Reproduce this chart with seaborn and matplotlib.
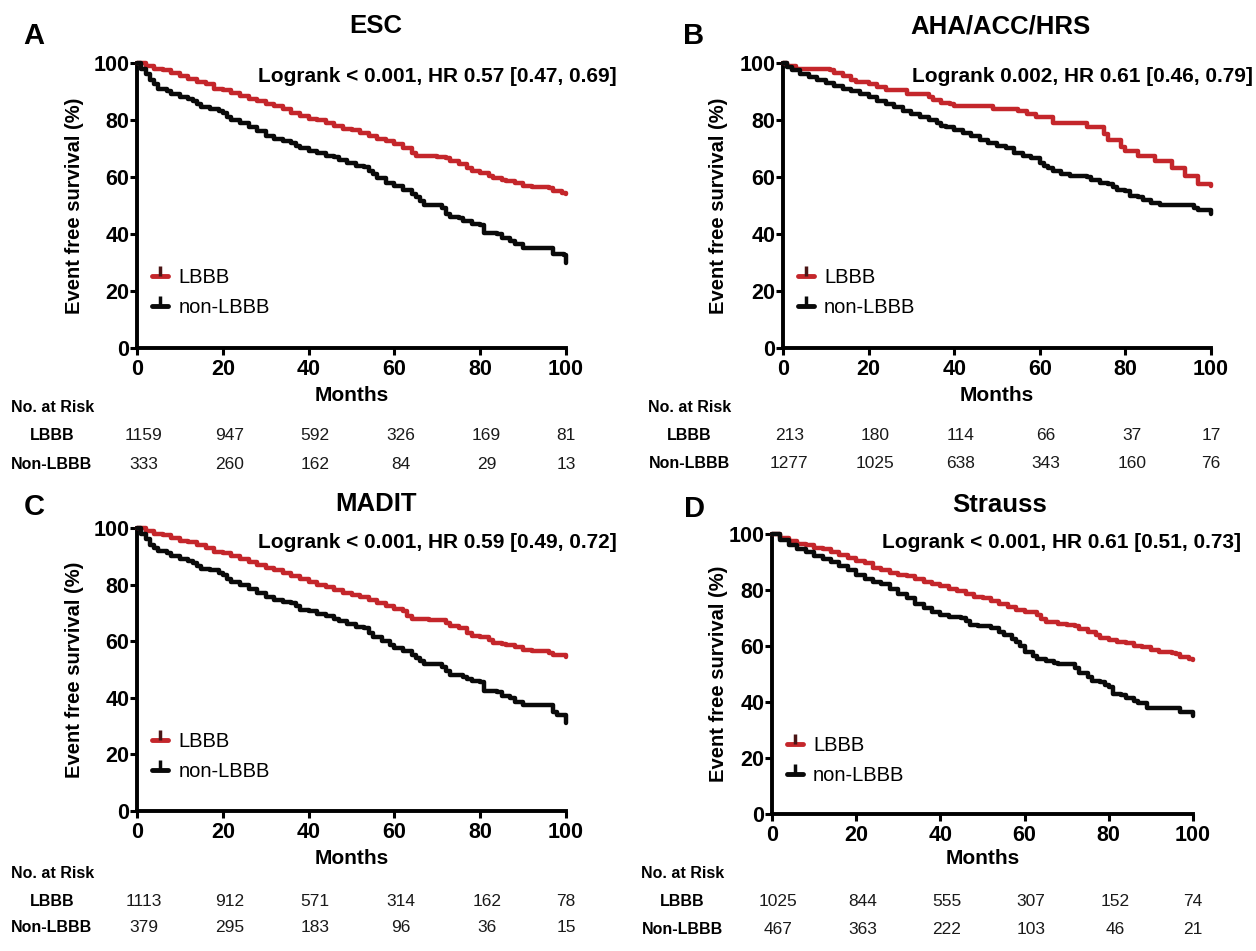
import matplotlib
matplotlib.use('Agg')
import matplotlib.pyplot as plt
import seaborn as sns
import pandas as pd
from matplotlib.lines import Line2D
from matplotlib.transforms import blended_transform_factory

# ---------------- DATA ----------------
risk_months = [0, 20, 40, 60, 80, 100]
x_ticks = [0, 20, 40, 60, 80, 100]
y_ticks = [0, 20, 40, 60, 80, 100]
group_labels = ["LBBB", "non-LBBB"]
risk_row_labels = ["LBBB", "Non-LBBB"]

panel_letters = ["A", "B", "C", "D"]
panel_titles = ["ESC", "AHA/ACC/HRS", "MADIT", "Strauss"]
panel_stats = [
    "Logrank < 0.001, HR 0.57 [0.47, 0.69]",
    "Logrank 0.002, HR 0.61 [0.46, 0.79]",
    "Logrank < 0.001, HR 0.59 [0.49, 0.72]",
    "Logrank < 0.001, HR 0.61 [0.51, 0.73]",
]

# ESC
esc_lbbb_t = [0, 2, 4, 6, 8, 10, 12, 14, 16, 18, 20, 22, 24, 26, 28, 30, 32, 34, 36, 38, 40, 42, 44, 46, 48, 50,
              52, 54, 56, 58, 60, 62, 64, 65, 68, 70, 72, 73, 75, 77, 78, 80, 82, 83, 85, 86, 88, 90, 92, 96, 97, 99, 100]
esc_lbbb_s = [100, 99, 98, 97.5, 96.5, 95.5, 94.5, 93.5, 92.5, 91, 90.5, 89.5, 88.5, 87.5, 86.5, 85.5, 85, 84, 82.5,
              81.5, 80.5, 80, 79, 78, 77, 76.5, 75.5, 74.5, 73.5, 72.5, 71.5, 70, 68.5, 67.5, 67.5, 67, 66.5, 65.5, 64.5,
              63, 62, 61.5, 60.5, 59.5, 59, 58.5, 58, 57, 56.5, 56, 55, 54.5, 54]
esc_non_t = [0, 1, 2, 3, 4, 5, 7, 8, 10, 12, 13, 14, 15, 17, 19, 20, 21, 22, 24, 26, 28, 30, 32, 34, 36, 37, 38, 40,
             42, 44, 46, 47, 49, 51, 53, 54, 55, 56, 58, 60, 62, 64, 65, 66, 67, 70, 71, 72, 73, 75, 76, 78, 80, 81,
             84, 85, 87, 88, 90, 96, 97, 99.5, 100]
esc_non_s = [100, 98, 96, 94, 92.5, 91, 90, 89, 88, 87.5, 86.5, 85.5, 84.5, 84, 83, 82.5, 81, 80, 79, 77.5, 76, 74.5,
             73.5, 72.5, 72, 71, 70, 69, 68.5, 67.5, 67, 66, 65, 64, 63.5, 62, 61, 59.5, 58, 57, 55.5, 54, 53, 51.5, 50,
             50, 49, 47, 46, 45.5, 44.5, 43.5, 43, 40.5, 40, 38.5, 37.5, 36.5, 35, 35, 33, 32.5, 30]

# AHA/ACC/HRS
aha_lbbb_t = [0, 1, 3, 10, 11, 12, 14, 16, 17, 20, 22, 24, 28, 29, 33, 34, 35, 37, 39, 40, 48, 49, 54, 55, 57, 59,
              62, 63, 70, 71, 74, 75, 76, 78, 79, 80, 82, 83, 86, 87, 90, 91, 93, 94, 96, 97, 100]
aha_lbbb_s = [100, 99, 98, 98, 97.5, 96.5, 95.5, 94, 93.5, 92.5, 91.5, 90.5, 90.5, 89, 89, 88, 87, 86, 85.5, 85, 85,
              84, 84, 83, 82, 81, 81, 79, 79, 77.5, 77.5, 75, 73, 73, 70.5, 69, 69, 67.5, 67.5, 65.5, 65.5, 63, 63,
              60.5, 60.5, 57.5, 57]
aha_non_t = [0, 1, 2, 4, 6, 8, 10, 12, 14, 16, 18, 20, 22, 24, 26, 28, 30, 32, 34, 36, 37, 38, 40, 42, 44, 46, 48,
             50, 52, 54, 56, 58, 60, 61, 62, 63, 65, 67, 70, 71, 72, 74, 76, 77, 78, 80, 81, 83, 84, 86, 88, 95, 96,
             97, 99.5, 100]
aha_non_s = [100, 98.5, 97.5, 96, 95, 94, 93, 92, 91, 90, 89, 88, 86.5, 85.5, 84.5, 83, 82, 81, 80, 79, 78, 77.5,
             76.5, 75.5, 74.5, 73, 72, 71, 70, 68.5, 67.5, 66.5, 65, 64, 63, 62, 61, 60.5, 60.5, 60, 59, 58, 57.5,
             56.5, 55.5, 55, 53.5, 53, 52, 51, 50, 50, 49, 48.5, 48.5, 47]

# MADIT
madit_lbbb_t = [0, 2, 4, 6, 8, 10, 12, 14, 16, 18, 20, 22, 24, 26, 28, 30, 32, 34, 36, 38, 40, 42, 44, 46, 48, 50,
                52, 54, 56, 58, 60, 62, 63, 64, 68, 70, 72, 73, 75, 77, 78, 80, 82, 83, 85, 86, 88, 90, 92, 96, 97, 100]
madit_lbbb_s = [100, 99, 98, 97.5, 96.5, 95.5, 95, 94, 93, 91.5, 91, 90, 89, 88, 87, 86, 85, 84, 83, 82, 81, 80, 79,
                78, 77, 76.5, 75.5, 74.5, 73.5, 72.5, 71.5, 70.5, 69, 68, 67.5, 67.5, 66.5, 65.5, 64.5, 63, 62, 61.5,
                60.5, 59.5, 59, 58.5, 58, 57, 56.5, 56, 55, 54.5]
madit_non_t = [0, 1, 2, 3, 4, 5, 7, 8, 10, 12, 13, 14, 15, 17, 19, 20, 21, 22, 24, 26, 28, 30, 32, 34, 36, 37, 38,
               40, 42, 44, 46, 47, 49, 51, 53, 54, 55, 57, 59, 60, 62, 64, 65, 66, 67, 70, 71, 72, 73, 76, 77, 78, 80,
               81, 84, 85, 87, 88, 90, 96, 97, 98, 99.5, 100]
madit_non_s = [100, 98, 96, 94, 93, 92, 91, 90, 89, 88.5, 87.5, 86.5, 85.5, 85, 84, 83.5, 82, 81, 80, 78.5, 77,
               75.5, 74.5, 74, 73.5, 72.5, 71, 70.5, 69.5, 69, 68, 67, 66, 65, 64.5, 63, 61.5, 60, 58.5, 57.5, 56.5,
               55, 54, 53, 52, 52, 51, 49.5, 48, 47.5, 46.5, 46, 45.5, 42.5, 42, 40.5, 40, 38.5, 37.5, 37.5, 35, 34,
               34, 31]

# Strauss
strauss_lbbb_t = [0, 2, 4, 6, 8, 10, 12, 14, 16, 18, 20, 22, 24, 26, 28, 30, 32, 34, 36, 38, 40, 42, 44, 46, 48, 50,
                  52, 54, 56, 58, 60, 62, 63, 64, 65, 68, 70, 72, 73, 75, 77, 78, 80, 82, 84, 86, 88, 90, 92, 95, 96,
                  97, 99, 100]
strauss_lbbb_s = [100, 98.5, 97.5, 96.5, 96, 95, 94.5, 93.5, 92.5, 91.5, 90.5, 89.5, 88, 87, 86, 85.5, 85, 84, 83,
                  82, 81.5, 80.5, 79.5, 78.5, 77.5, 77, 76, 75, 74, 73, 72, 72, 71, 69.5, 68.5, 68, 67.5, 67, 66, 65,
                  64, 63, 62, 61.5, 61, 60, 59.5, 58.5, 58, 57.5, 57, 56, 55.5, 55]
strauss_non_t = [0, 2, 4, 6, 8, 10, 12, 14, 16, 18, 20, 22, 24, 26, 28, 30, 32, 34, 36, 38, 40, 42, 45, 46, 47, 49,
                 52, 54, 55, 57, 58, 59, 60, 62, 63, 65, 67, 68, 71, 72, 73, 75, 76, 78, 79, 80, 81, 83, 84, 86, 87,
                 89, 96, 97, 99.5, 100]
strauss_non_s = [100, 98, 96, 94.5, 93.5, 92, 91, 90, 88.5, 87, 85.5, 84, 83, 82, 80.5, 78.5, 77, 75, 73.5, 72, 71,
                 70.5, 70, 69, 67.5, 67, 66.5, 65, 64, 62.5, 61.5, 60, 58, 56.5, 55.5, 54.5, 54, 53.5, 53.5, 52, 50.5,
                 49, 47.5, 47, 46, 45.5, 43, 42.5, 41.5, 40.5, 39.5, 38, 38, 36.5, 36.5, 35]

esc_risk_lbbb = [1159, 947, 592, 326, 169, 81]
esc_risk_non = [333, 260, 162, 84, 29, 13]
aha_risk_lbbb = [213, 180, 114, 66, 37, 17]
aha_risk_non = [1277, 1025, 638, 343, 160, 76]
madit_risk_lbbb = [1113, 912, 571, 314, 162, 78]
madit_risk_non = [379, 295, 183, 96, 36, 15]
strauss_risk_lbbb = [1025, 844, 555, 307, 152, 74]
strauss_risk_non = [467, 363, 222, 103, 46, 21]

# ---------------- STYLE / LAYOUT ----------------
sns.set_theme(style='ticks')
plt.rcParams['font.family'] = ['Liberation Sans', 'DejaVu Sans']
plt.rcParams['text.color'] = 'black'
plt.rcParams['axes.labelcolor'] = 'black'
plt.rcParams['xtick.color'] = 'black'
plt.rcParams['ytick.color'] = 'black'

RED = '#c4262b'
BLACK = '#0a0a0a'
W, H = 1256, 951
fig = plt.figure(figsize=(W / 100, H / 100), dpi=100)


def fx(px):
    return px / W


def fy(py):
    return 1 - py / H


curves = [
    (esc_lbbb_t, esc_lbbb_s, esc_non_t, esc_non_s),
    (aha_lbbb_t, aha_lbbb_s, aha_non_t, aha_non_s),
    (madit_lbbb_t, madit_lbbb_s, madit_non_t, madit_non_s),
    (strauss_lbbb_t, strauss_lbbb_s, strauss_non_t, strauss_non_s),
]
risks = [
    (esc_risk_lbbb, esc_risk_non),
    (aha_risk_lbbb, aha_risk_non),
    (madit_risk_lbbb, madit_risk_non),
    (strauss_risk_lbbb, strauss_risk_non),
]

layout = [
    dict(box=(137, 63, 566, 348), letter=(34, 36), title=(376, 26), stat=(437, 76), ylab=74, months=395,
         hdr=(11, 408), rowx=52, rows=(436, 464)),
    dict(box=(783, 63, 1211, 348), letter=(694, 36), title=(1000, 26), stat=(1082, 76), ylab=718, months=395,
         hdr=(648, 407), rowx=689, rows=(435, 463)),
    dict(box=(137, 528, 566, 811), letter=(34, 507), title=(376, 504), stat=(437, 543), ylab=74, months=858,
         hdr=(11, 873), rowx=52, rows=(901, 928)),
    dict(box=(772, 534, 1193, 814), letter=(694, 509), title=(1000, 505), stat=(1062, 543), ylab=718, months=858,
         hdr=(641, 873), rowx=682, rows=(901, 929)),
]

for i in range(4):
    L = layout[i]
    l, t, r, b = L['box']
    ax = fig.add_axes([fx(l), fy(b), (r - l) / W, (b - t) / H])
    lt, ls, nt, ns = curves[i]
    sns.lineplot(x=lt, y=ls, ax=ax, color=RED, lw=3.2, drawstyle='steps-post', estimator=None,
                 sort=False, clip_on=False, zorder=3)
    sns.lineplot(x=nt, y=ns, ax=ax, color=BLACK, lw=3.2, drawstyle='steps-post', estimator=None,
                 sort=False, clip_on=False, zorder=4)
    ax.set_xlim(0, 100)
    ax.set_ylim(0, 100)
    ax.set_xticks(x_ticks)
    ax.set_yticks(y_ticks)
    ax.set_xlabel('')
    ax.set_ylabel('')
    sns.despine(ax=ax)
    for sp in ['left', 'bottom']:
        ax.spines[sp].set_linewidth(2.8)
        ax.spines[sp].set_color('black')
    ax.tick_params(axis='both', direction='out', length=5, width=2.2, color='black',
                   labelsize=15.5, labelcolor='black')
    ax.tick_params(axis='x', pad=3)
    ax.tick_params(axis='y', pad=0.5)
    for lab in ax.get_xticklabels() + ax.get_yticklabels():
        lab.set_fontweight('bold')
    ax.set_facecolor('white')

    handles = [
        Line2D([0], [0], color=RED, lw=3.5, marker=2, markersize=7, markeredgewidth=2.5,
               markeredgecolor='#4a1515'),
        Line2D([0], [0], color=BLACK, lw=3.5, marker=2, markersize=7, markeredgewidth=2.5,
               markeredgecolor=BLACK),
    ]
    ax.legend(handles, group_labels, loc='upper left', bbox_to_anchor=(0.035, 0.28), frameon=False,
              fontsize=14.5, handlelength=0.8, handletextpad=0.5, labelspacing=0.55, borderpad=0,
              borderaxespad=0, labelcolor='black')

    fig.text(fx(L['letter'][0]), fy(L['letter'][1]), panel_letters[i], ha='center', va='center',
             fontsize=21, fontweight='bold')
    fig.text(fx(L['title'][0]), fy(L['title'][1]), panel_titles[i], ha='center', va='center',
             fontsize=18.5, fontweight='bold')
    fig.text(fx(L['stat'][0]), fy(L['stat'][1]), panel_stats[i], ha='center', va='center',
             fontsize=15, fontweight='bold')
    fig.text(fx(L['ylab']), fy((t + b) / 2), 'Event free survival (%)', rotation=90, ha='center',
             va='center', fontsize=14.5, fontweight='bold')
    fig.text(fx((l + r) / 2), fy(L['months']), 'Months', ha='center', va='center', fontsize=15,
             fontweight='bold')

    fig.text(fx(L['hdr'][0]), fy(L['hdr'][1]), 'No. at Risk', ha='left', va='center', fontsize=11.5,
             fontweight='bold')
    tr = blended_transform_factory(ax.transData, fig.transFigure)
    rl, rn = risks[i]
    for row_lab, vals, ry in zip(risk_row_labels, (rl, rn), L['rows']):
        fig.text(fx(L['rowx']), fy(ry), row_lab, ha='center', va='center', fontsize=11.5,
                 fontweight='bold')
        for m, v in zip(risk_months, vals):
            ax.text(m + 1.5 if m < 100 else m, fy(ry), str(v), transform=tr, ha='center', va='center',
                    fontsize=12.5, color='#1a1a1a')

fig.savefig('out.png', dpi=100, facecolor='white')
